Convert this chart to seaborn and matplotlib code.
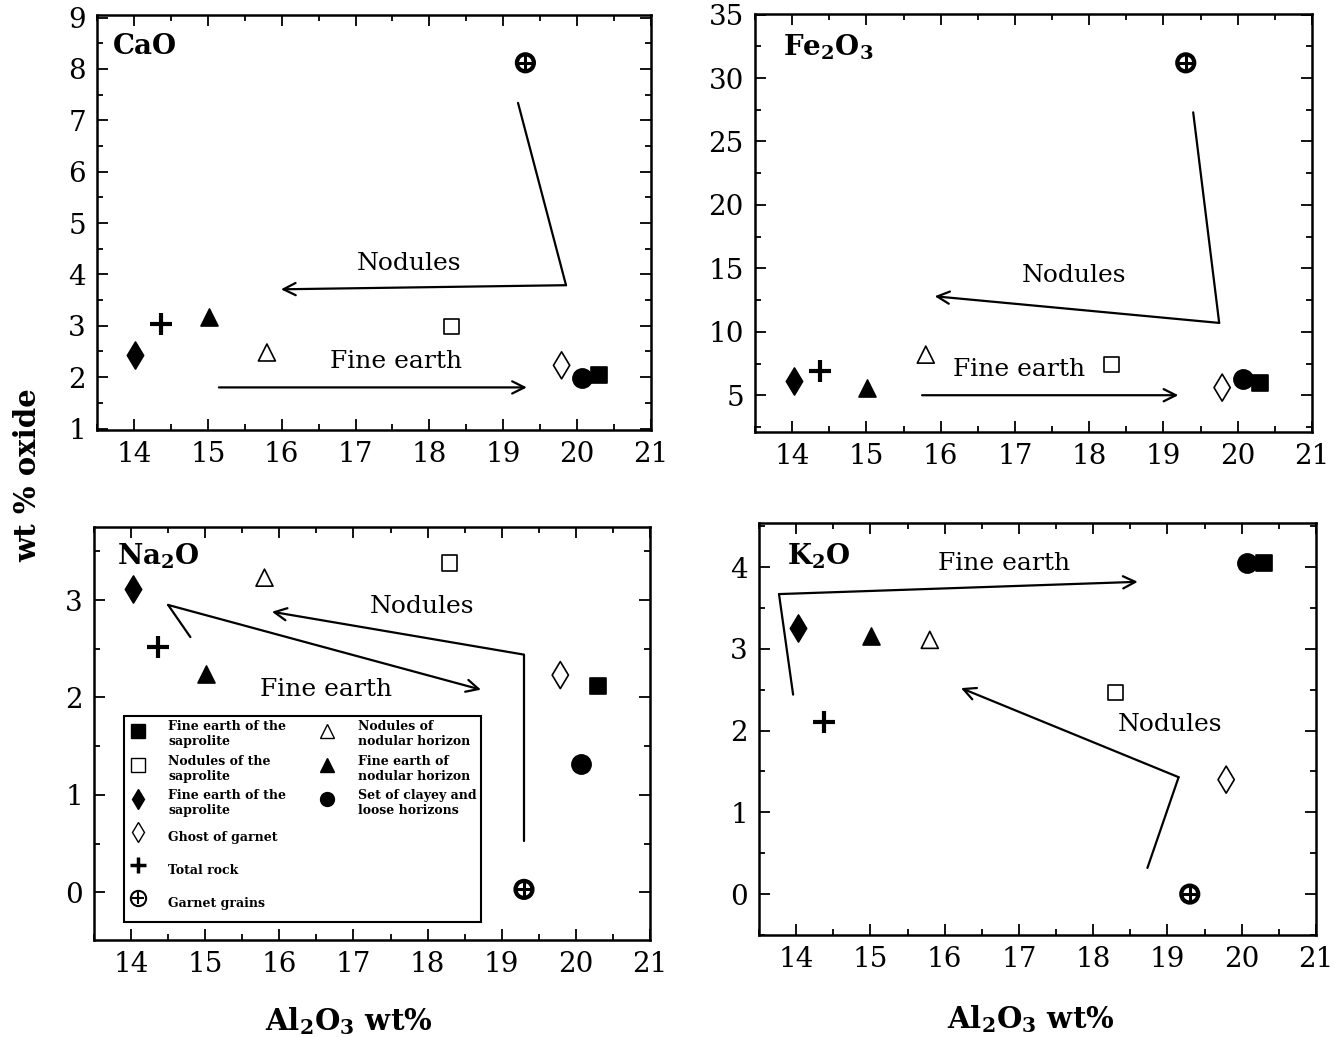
import numpy as np
import matplotlib
matplotlib.use("Agg")
import matplotlib.pyplot as plt
import seaborn as sns
from matplotlib.lines import Line2D
from matplotlib.ticker import MultipleLocator

# sample groups (same order everywhere)
samples = ["Fine earth of the\nsaprolite", "Nodules of the\nsaprolite", "Fine earth of the\nsaprolite",
           "Ghost of garnet", "Total rock", "Garnet grains",
           "Nodules of\nnodular horizon", "Fine earth of\nnodular horizon", "Set of clayey and\nloose horizons"]

# Al2O3 wt% of each group
al2o3 = [20.30, 18.30, 14.02, 19.79, 14.37, 19.30, 15.80, 15.01, 20.07]

# oxide wt% of each group
cao = [2.04, 2.99, 2.44, 2.23, 3.03, 8.12, 2.48, 3.17, 1.98]
fe2o3 = [6.0, 7.4, 6.1, 5.6, 6.9, 31.2, 8.2, 5.6, 6.3]
na2o = [2.12, 3.38, 3.11, 2.23, 2.52, 0.03, 3.23, 2.24, 1.32]
k2o = [4.05, 2.47, 3.26, 1.40, 2.10, 0.00, 3.11, 3.16, 4.05]

# trend arrows drawn by hand on the original (polyline, last point = arrow head)
cao_nod = [(19.2, 7.34), (19.85, 3.79), (15.99, 3.71)]
cao_fine = [(15.15, 1.80), (19.32, 1.80)]
fe_nod = [(19.4, 27.3), (19.75, 10.7), (15.92, 12.8)]
fe_fine = [(15.75, 5.0), (19.2, 5.0)]
na_nod = [(19.3, 0.53), (19.3, 2.44), (15.9, 2.88)]
na_fine = [(14.8, 2.62), (14.5, 2.95), (18.72, 2.08)]
k_fine = [(13.96, 2.44), (13.77, 3.67), (18.6, 3.82)]
k_nod = [(18.73, 0.32), (19.15, 1.43), (16.22, 2.52)]

sns.set_style("ticks")
plt.rcParams["font.family"] = ["DejaVu Serif", "DejaVu Sans"]
plt.rcParams["mathtext.fontset"] = "dejavuserif"
plt.rcParams.update({"text.color": "k", "axes.edgecolor": "k", "xtick.color": "k",
                     "ytick.color": "k", "axes.labelcolor": "k"})

# marker, face, size for each group
styles = [("s", "k", 120), ("s", "none", 120), ("d", "k", 190),
          ("d", "none", 190), ("+", "k", 230), ("o", "none", 150),
          ("^", "none", 150), ("^", "k", 150), ("o", "k", 190)]


def draw_points(ax, yvals):
    for (m, face, s), x, y in zip(styles, al2o3, yvals):
        if m == "+":
            sns.scatterplot(x=[x], y=[y], marker="+", s=s, color="k", edgecolor="k",
                            linewidth=3, ax=ax, legend=False, zorder=3)
        elif face == "none" and m == "o":
            # garnet grains: circle with cross
            sns.scatterplot(x=[x], y=[y], marker="o", s=s, facecolor="none", edgecolor="k",
                            linewidth=3, ax=ax, legend=False, zorder=3)
            sns.scatterplot(x=[x], y=[y], marker="+", s=s * 0.8, color="k", edgecolor="k",
                            linewidth=2.2, ax=ax, legend=False, zorder=3)
        else:
            sns.scatterplot(x=[x], y=[y], marker=m, s=s, color="k", facecolor=face,
                            edgecolor="k", linewidth=1.2, ax=ax, legend=False, zorder=3)


def draw_arrow(ax, pts, label, txy):
    xs = [p[0] for p in pts]
    ys = [p[1] for p in pts]
    if len(pts) > 2:
        ax.plot(xs[:-1], ys[:-1], color="k", lw=1.6)
    ax.annotate("", xy=pts[-1], xytext=pts[-2],
                arrowprops=dict(arrowstyle="->", lw=1.6, color="k", mutation_scale=22,
                                shrinkA=0, shrinkB=0))
    ax.text(txy[0], txy[1], label, fontsize=18, ha="center", va="center")


def style_axis(ax, ylim, ymaj, ymin, name, name_xy):
    ax.set_xlim(13.5, 21)
    ax.set_ylim(*ylim)
    ax.xaxis.set_major_locator(MultipleLocator(1))
    ax.xaxis.set_minor_locator(MultipleLocator(0.5))
    ax.yaxis.set_major_locator(MultipleLocator(ymaj))
    ax.yaxis.set_minor_locator(MultipleLocator(ymin))
    ax.tick_params(which="both", direction="in", top=True, right=True, width=1.3, labelsize=20, pad=8)
    ax.tick_params(which="major", length=8)
    ax.tick_params(which="minor", length=4)
    for sp in ax.spines.values():
        sp.set_linewidth(1.8)
    ax.set_xlabel("")
    ax.set_ylabel("")
    ax.text(name_xy[0], name_xy[1], name, transform=ax.transAxes, fontsize=20,
            fontweight="bold", ha="left", va="center")


fig = plt.figure(figsize=(13.35, 10.37), dpi=100)
ax1 = fig.add_axes([0.0727, 0.5853, 0.4149, 0.4002])
ax2 = fig.add_axes([0.5655, 0.5834, 0.4173, 0.4031])
ax3 = fig.add_axes([0.0704, 0.0935, 0.4165, 0.3983])
ax4 = fig.add_axes([0.5685, 0.0984, 0.4173, 0.3973])

# CaO
draw_points(ax1, cao)
draw_arrow(ax1, cao_nod, "Nodules", (17.72, 4.22))
draw_arrow(ax1, cao_fine, "Fine earth", (17.55, 2.31))
style_axis(ax1, (0.97, 9.05), 1, 0.5, "CaO", (0.029, 0.923))

# Fe2O3
draw_points(ax2, fe2o3)
draw_arrow(ax2, fe_nod, "Nodules", (17.8, 14.4))
draw_arrow(ax2, fe_fine, "Fine earth", (17.05, 7.05))
style_axis(ax2, (2.1, 35.05), 5, 2.5, r"Fe$_\mathbf{2}$O$_\mathbf{3}$", (0.05, 0.921))

# Na2O
draw_points(ax3, na2o)
draw_arrow(ax3, na_nod, "Nodules", (17.92, 2.93))
draw_arrow(ax3, na_fine, "Fine earth", (16.63, 2.08))
style_axis(ax3, (-0.49, 3.75), 1, 0.5, r"Na$_\mathbf{2}$O", (0.041, 0.93))

# K2O
draw_points(ax4, k2o)
draw_arrow(ax4, k_fine, "Fine earth", (16.8, 4.05))
draw_arrow(ax4, k_nod, "Nodules", (19.03, 2.07))
style_axis(ax4, (-0.5, 4.54), 1, 0.5, r"K$_\mathbf{2}$O", (0.05, 0.92))

# legend in the Na2O panel
handles = []
for m, face, s in styles:
    if m == "o" and face == "none":
        h = (Line2D([], [], ls="none", marker="o", ms=11, mfc="none", mec="k", mew=1.5),
             Line2D([], [], ls="none", marker="+", ms=9, mec="k", mew=1.5))
    elif m == "+":
        h = Line2D([], [], ls="none", marker="+", ms=12, mec="k", mew=2.5)
    else:
        h = Line2D([], [], ls="none", marker=m, ms=10, mfc=face, mec="k", mew=1)
    handles.append(h)
blank = Line2D([], [], ls="none")
leg = ax3.legend(handles + [blank] * 3, samples + [""] * 3, ncol=2, loc="lower left",
                 bbox_to_anchor=(0.054, 0.044), borderaxespad=0, frameon=True, fancybox=False,
                 edgecolor="k", framealpha=1, borderpad=0.35, labelspacing=0.38,
                 handletextpad=1.7, columnspacing=2.5, handlelength=1.5, handleheight=3.1,
                 prop={"size": 9, "weight": "bold"})
leg.get_frame().set_linewidth(1.5)

fig.text(0.021, 0.542, "wt % oxide", rotation=90, fontsize=21, fontweight="bold",
         ha="center", va="center")
fig.text(0.2614, 0.015, r"Al$_\mathbf{2}$O$_\mathbf{3}$ wt%", fontsize=21, fontweight="bold",
         ha="center", va="center")
fig.text(0.7723, 0.017, r"Al$_\mathbf{2}$O$_\mathbf{3}$ wt%", fontsize=21, fontweight="bold",
         ha="center", va="center")

fig.savefig("out.png", dpi=100)
